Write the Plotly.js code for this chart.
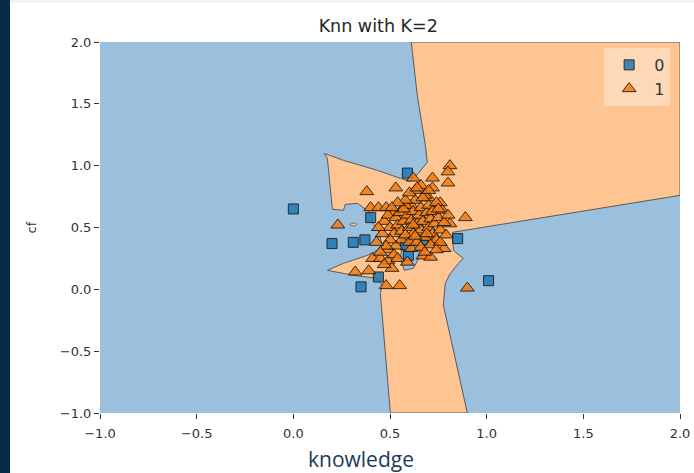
<!DOCTYPE html>
<html><head><meta charset="utf-8">
<script src="https://cdn.plot.ly/plotly-3.0.1.min.js"></script>
<style>
html,body{margin:0;padding:0;background:#fff;}
#wrap{position:relative;width:694px;height:473px;overflow:hidden;}
#chart{width:694px;height:473px;}
#bar{position:absolute;left:0;top:0;width:10px;height:473px;background:#0b2a48;}
#topstrip{position:absolute;left:10px;top:0;width:684px;height:3px;background:#f2f2f2;}
</style></head>
<body>
<div id="wrap"><div id="chart"></div><div id="bar"></div><div id="topstrip"></div></div>
<script>
// Decision region boundary for class 1 (orange), in data coordinates
const region1X = [0.610, 2.0, 2.0, 0.823, 0.828, 0.879, 0.854, 0.812, 0.786, 0.776, 0.900, 0.502, 0.450, 0.460, 0.435, 0.310, 0.176, 0.259, 0.383, 0.435, 0.460, 0.440, 0.409, 0.398, 0.331, 0.269, 0.259, 0.202, 0.176, 0.160, 0.259, 0.435, 0.554, 0.605, 0.647, 0.693, 0.683, 0.641, 0.610];
const region1Y = [2.0, 2.0, 0.760, 0.461, 0.315, 0.251, 0.210, 0.129, 0.049, -0.129, -1.0, -1.0, -0.032, 0.032, 0.089, 0.113, 0.154, 0.210, 0.275, 0.315, 0.356, 0.477, 0.542, 0.622, 0.695, 0.687, 0.639, 0.647, 1.059, 1.099, 1.043, 0.962, 0.897, 0.873, 0.938, 1.027, 1.164, 1.568, 2.0];
// Blue (class 0) pocket inside the orange region
const holeX = [0.564, 0.647, 0.657, 0.621, 0.574, 0.554, 0.564];
const holeY = [0.372, 0.372, 0.275, 0.170, 0.154, 0.251, 0.372];
// Tiny orange island
const islandX = [0.300, 0.318, 0.330, 0.318, 0.300, 0.292, 0.300];
const islandY = [0.530, 0.538, 0.525, 0.512, 0.515, 0.523, 0.530];

// Class 0 samples
const class0X = [0.00, 0.20, 0.31, 0.37, 0.40, 0.59, 0.58, 0.595, 0.67, 0.85, 0.35, 0.44, 1.01];
const class0Y = [0.65, 0.37, 0.38, 0.40, 0.58, 0.94, 0.36, 0.275, 0.40, 0.41, 0.02, 0.10, 0.07];

// Class 1 samples
const class1X = [0.23, 0.38, 0.53, 0.89, 0.81, 0.80, 0.80, 0.72, 0.62, 0.66, 0.72, 0.76, 0.81, 0.70, 0.63,
  0.32, 0.39, 0.41, 0.48, 0.55, 0.45, 0.49, 0.49, 0.51, 0.61, 0.67, 0.71, 0.78, 0.72, 0.90,
  0.40, 0.44, 0.48, 0.52, 0.61,
  0.47, 0.49, 0.50, 0.52, 0.53, 0.54, 0.55, 0.56, 0.57, 0.58, 0.59, 0.60, 0.61, 0.62, 0.62, 0.63, 0.64, 0.65, 0.66, 0.66,
  0.67, 0.68, 0.68, 0.69, 0.70, 0.70, 0.71, 0.72, 0.72, 0.73, 0.74, 0.74, 0.75, 0.76, 0.77, 0.78, 0.79, 0.80,
  0.56, 0.58, 0.60, 0.64, 0.66, 0.53, 0.50, 0.46, 0.44, 0.48, 0.52, 0.58, 0.60, 0.64, 0.67, 0.70, 0.62, 0.69,
  0.75, 0.57, 0.54, 0.51, 0.63, 0.71, 0.76, 0.45, 0.43, 0.47, 0.54, 0.59, 0.68, 0.74];
const class1Y = [0.52, 0.79, 0.82, 0.58, 1.00, 0.95, 0.86, 0.90, 0.90, 0.84, 0.82, 0.70, 0.53, 0.74, 0.80,
  0.14, 0.15, 0.25, 0.03, 0.03, 0.25, 0.32, 0.23, 0.17, 0.33, 0.27, 0.26, 0.33, 0.38, 0.01,
  0.66, 0.66, 0.66, 0.62, 0.68,
  0.55, 0.60, 0.50, 0.45, 0.58, 0.52, 0.62, 0.47, 0.55, 0.68, 0.60, 0.50, 0.56, 0.63, 0.45, 0.72, 0.53, 0.60, 0.48, 0.66,
  0.55, 0.76, 0.42, 0.62, 0.50, 0.68, 0.57, 0.45, 0.63, 0.53, 0.70, 0.40, 0.58, 0.48, 0.64, 0.54, 0.44, 0.60,
  0.40, 0.44, 0.38, 0.38, 0.34, 0.35, 0.40, 0.45, 0.50, 0.35, 0.28, 0.72, 0.78, 0.82, 0.74, 0.80, 0.52, 0.45,
  0.65, 0.65, 0.70, 0.66, 0.43, 0.36, 0.38, 0.30, 0.38, 0.20, 0.25, 0.22, 0.30, 0.32];

const classNames = ['0', '1'];
const tickVals = [-1.0, -0.5, 0.0, 0.5, 1.0, 1.5, 2.0];

const BLUE_BG = '#9bc0de';
const ORANGE_BG = '#fec592';
const EDGE = '#5a5a5a';

const traces = [
  {x: region1X, y: region1Y, type: 'scatter', mode: 'lines', fill: 'toself', fillcolor: ORANGE_BG,
   line: {color: EDGE, width: 1}, showlegend: false, hoverinfo: 'skip'},
  {x: holeX, y: holeY, type: 'scatter', mode: 'lines', fill: 'toself', fillcolor: BLUE_BG,
   line: {color: EDGE, width: 1}, showlegend: false, hoverinfo: 'skip'},
  {x: islandX, y: islandY, type: 'scatter', mode: 'lines', fill: 'toself', fillcolor: ORANGE_BG,
   line: {color: EDGE, width: 0.8}, showlegend: false, hoverinfo: 'skip'},
  {x: class0X, y: class0Y, type: 'scatter', mode: 'markers', name: classNames[0],
   marker: {symbol: 'square', size: 10, color: '#1f77b4', opacity: 0.85, line: {color: '#111', width: 1}}},
  {x: class1X, y: class1Y, type: 'scatter', mode: 'markers', name: classNames[1],
   marker: {symbol: 'triangle-up', size: 12, color: '#f47b0e', opacity: 0.85, line: {color: '#111', width: 1}}}
];

const tickFont = {family: 'DejaVu Sans', size: 13, color: '#333333'};

const layout = {
  width: 694, height: 473,
  margin: {l: 100, r: 14, t: 42, b: 60},
  paper_bgcolor: '#ffffff',
  plot_bgcolor: BLUE_BG,
  title: {text: 'Knn with K=2', x: 0.545, xanchor: 'center', y: 0.945, yanchor: 'middle',
          font: {family: 'DejaVu Sans', size: 17.5, color: '#262626'}},
  xaxis: {range: [-1, 2], tickvals: tickVals, tickformat: '.1f', ticks: 'outside', ticklen: 5,
          tickcolor: '#333', tickwidth: 1, showgrid: false, zeroline: false, showline: false,
          ticklabelstandoff: 3, tickfont: tickFont, fixedrange: true},
  yaxis: {range: [-1, 2], tickvals: tickVals, tickformat: '.1f', ticks: 'outside', ticklen: 5,
          tickcolor: '#333', tickwidth: 1, showgrid: false, zeroline: false, showline: false,
          tickfont: tickFont, fixedrange: true,
          title: {text: 'cf', standoff: 20, font: {family: 'DejaVu Sans', size: 13, color: '#333'}}},
  legend: {x: 0.983, xanchor: 'right', y: 0.984, yanchor: 'top', bgcolor: 'rgba(255,255,255,0.35)',
           borderwidth: 0, font: {family: 'DejaVu Sans', size: 16, color: '#333'}, itemwidth: 40},
  annotations: [{text: 'knowledge', xref: 'paper', yref: 'paper', x: (361 - 100) / 580, y: -(459 - 413) / 371,
                 xanchor: 'center', yanchor: 'middle', showarrow: false,
                 font: {family: 'Open Sans', size: 21, color: '#1b3a5c'}}],
  showlegend: true
};

Plotly.newPlot('chart', traces, layout, {staticPlot: true, displayModeBar: false});
</script>
</body></html>
